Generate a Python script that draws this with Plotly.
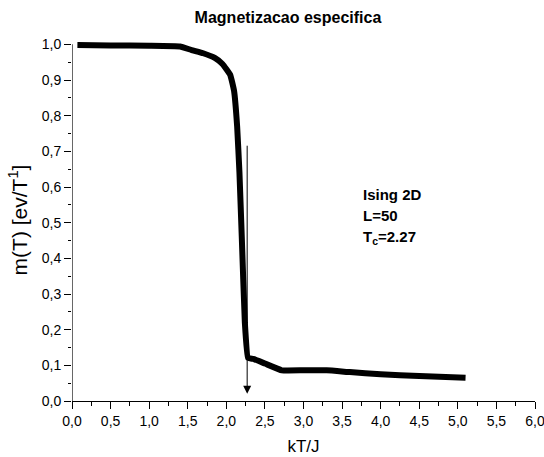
import plotly.graph_objects as go

# Magnetization per spin of the 2D Ising model (L=50) versus temperature
temperature = [0.07, 0.5, 1.0, 1.4, 1.55, 1.7, 1.85, 1.95, 2.05, 2.1, 2.14, 2.17,
               2.2, 2.24, 2.28, 2.35, 2.5, 2.72, 3.0, 3.3, 3.6, 4.0, 4.5, 5.1]
magnetization = [0.998, 0.997, 0.996, 0.994, 0.984, 0.975, 0.962, 0.945, 0.915, 0.87,
                 0.77, 0.64, 0.46, 0.22, 0.121, 0.118, 0.105, 0.086, 0.086, 0.086,
                 0.081, 0.075, 0.07, 0.065]

tc = 2.27
arrow_top = 0.72
arrow_bottom = 0.02

x_ticks = [0.0, 0.5, 1.0, 1.5, 2.0, 2.5, 3.0, 3.5, 4.0, 4.5, 5.0, 5.5, 6.0]
y_ticks = [0.0, 0.1, 0.2, 0.3, 0.4, 0.5, 0.6, 0.7, 0.8, 0.9, 1.0]

info_lines = ["Ising 2D", "L=50", "T<sub>c</sub>=2.27"]
info_y = [0.58, 0.521, 0.459]

font = "Liberation Sans, Arial, sans-serif"

fig = go.Figure()
fig.add_trace(go.Scatter(
    x=temperature, y=magnetization, mode="lines",
    line=dict(color="black", width=6, shape="spline", smoothing=0.3),
    showlegend=False, hoverinfo="skip",
))

# arrow marking the critical temperature
fig.add_annotation(
    x=tc, y=arrow_bottom, ax=tc, ay=arrow_top, xref="x", yref="y",
    axref="x", ayref="y", showarrow=True, arrowhead=2, arrowsize=1.6,
    arrowwidth=1, arrowcolor="black", text="",
)

for txt, yy in zip(info_lines, info_y):
    fig.add_annotation(
        x=3.75, y=yy, xref="x", yref="y", text="<b>" + txt + "</b>",
        showarrow=False, xanchor="left", yanchor="middle",
        font=dict(family=font, size=15, color="black"),
    )

# left axis line drawn only up to 1.0
fig.add_shape(type="line", xref="x", yref="y", x0=0, x1=0, y0=0, y1=1.0,
              line=dict(color="black", width=1.2))

fig.update_layout(
    width=544, height=457,
    margin=dict(l=72, r=9, t=38.6, b=56, autoexpand=False),
    paper_bgcolor="white", plot_bgcolor="white",
    separators=", ",
    font=dict(family=font, size=14, color="black"),
    title=dict(text="<b>Magnetizacao especifica</b>", x=0.4665, xref="paper",
               xanchor="center", y=1 - 17 / 457, yref="container", yanchor="middle",
               font=dict(family=font, size=16, color="black")),
)
fig.update_xaxes(
    range=[0, 6], tickvals=x_ticks, tickformat=".1f", ticklabeloverflow="allow",
    automargin=False,
    showgrid=False, zeroline=False, showline=True, linecolor="black", linewidth=1.2,
    ticks="outside", ticklen=7, tickwidth=1.2, tickcolor="black",
    minor=dict(ticks="outside", ticklen=3.5, tickwidth=1, tickcolor="black", dtick=0.25, tick0=0),
    title=dict(text="kT/J", font=dict(family=font, size=17), standoff=12),
)
fig.update_yaxes(
    range=[0, 1.015], tickvals=y_ticks, tickformat=".1f", ticklabeloverflow="allow",
    automargin=False,
    showgrid=False, zeroline=False, showline=False,
    ticks="outside", ticklen=7, tickwidth=1.2, tickcolor="black",
    minor=dict(ticks="outside", ticklen=3.5, tickwidth=1, tickcolor="black", dtick=0.05, tick0=0),
    title=dict(text="m(T) [ev/T<sup>1</sup>]", font=dict(family=font, size=21), standoff=8),
)

fig.write_html("out.html")
